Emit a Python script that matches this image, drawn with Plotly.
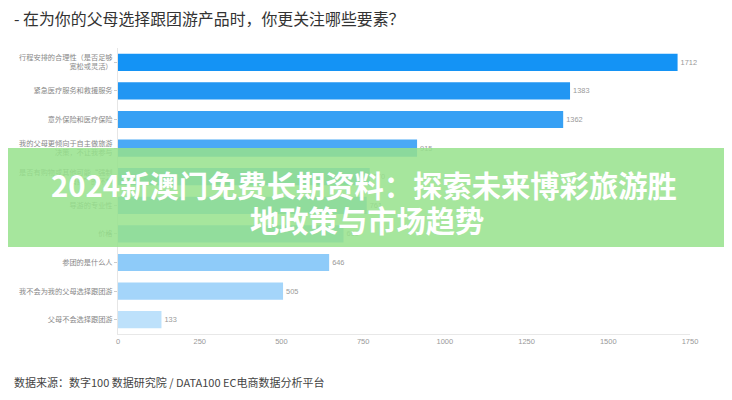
import plotly.graph_objects as go

categories = [
    "行程安排的合理性（是否足够<br>宽松或灵活）",
    "紧急医疗服务和救援服务",
    "意外保险和医疗保险",
    "我的父母更倾向于自主做旅游<br>决策，不让我参与",
    "是否有购物或其他可能“强制<br>消费”的环节",
    "导游的专业性",
    "价格",
    "参团的是什么人",
    "我不会为我的父母选择跟团游",
    "父母不会选择跟团游",
]
values = [1712, 1383, 1362, 915, 770, 761, 690, 646, 505, 133]
bar_colors = ["#1493f5", "#2196f3", "#36a0f4", "#4aa9f6", "#5cb2f6",
              "#6cbaf7", "#7cc2f8", "#8ecbf9", "#a4d5fa", "#bde1fb"]
x_ticks = [0, 250, 500, 750, 1000, 1250, 1500, 1750]

# figure-pixel geometry (page body adds an 8px offset)
L, R, T, B = 110, 682, 40, 326
W, H = R - L, B - T


def px(p):
    return (p - L) / W


def py(p):
    return (B - p) / H


fig = go.Figure(go.Bar(
    x=values, y=categories, orientation="h",
    marker=dict(color=bar_colors, line=dict(width=0)),
    text=[str(v) for v in values], textposition="outside",
    textfont=dict(size=7.4, color="#999999", family="Liberation Sans"),
    cliponaxis=False,
))

fig.update_layout(
    width=732, height=400,
    margin=dict(l=L, r=732 - R, t=T, b=400 - B),
    paper_bgcolor="white", plot_bgcolor="white",
    bargap=0.4,
    showlegend=False,
    font=dict(family="Noto Sans CJK SC"),
    xaxis=dict(range=[0, 1750], tickvals=x_ticks, showgrid=False, zeroline=False,
               showline=True, linecolor="#e8e8e8", linewidth=1,
               tickfont=dict(size=7.5, color="#999999", family="Liberation Sans"),
               ticks="", fixedrange=True),
    yaxis=dict(autorange="reversed", showgrid=False, zeroline=False,
               showline=True, linecolor="#e6e6e6", linewidth=1,
               ticks="outside", ticklen=3, tickcolor="#cccccc",
               tickfont=dict(size=7.2, color="#888888", family="Noto Sans CJK SC"),
               automargin=False),
    shapes=[dict(type="rect", xref="paper", yref="paper",
                 x0=px(-10), x1=px(740), y0=py(239), y1=py(140),
                 fillcolor="rgba(150,226,140,0.85)", line=dict(width=0), layer="above")],
    annotations=[
        dict(text="- 在为你的父母选择跟团游产品时，你更关注哪些要素？",
             xref="paper", yref="paper", x=px(4), y=py(10),
             xanchor="left", yanchor="middle", showarrow=False,
             font=dict(size=15.9, color="#333333", family="Noto Sans CJK SC")),
        dict(text="数据来源：数字100 数据研究院 / DATA100 EC电商数据分析平台",
             xref="paper", yref="paper", x=px(4), y=py(374),
             xanchor="left", yanchor="middle", showarrow=False,
             font=dict(size=11, color="#444444", family="Noto Sans CJK SC")),
        dict(text="<b>2024新澳门免费长期资料：探索未来博彩旅游胜</b>",
             xref="paper", yref="paper", x=px(356), y=py(176),
             xanchor="center", yanchor="middle", showarrow=False,
             font=dict(size=29.3, color="white", family="Noto Sans CJK SC")),
        dict(text="<b>地政策与市场趋势</b>",
             xref="paper", yref="paper", x=px(359), y=py(211),
             xanchor="center", yanchor="middle", showarrow=False,
             font=dict(size=29.3, color="white", family="Noto Sans CJK SC")),
    ],
)

fig.write_html("out.html")
